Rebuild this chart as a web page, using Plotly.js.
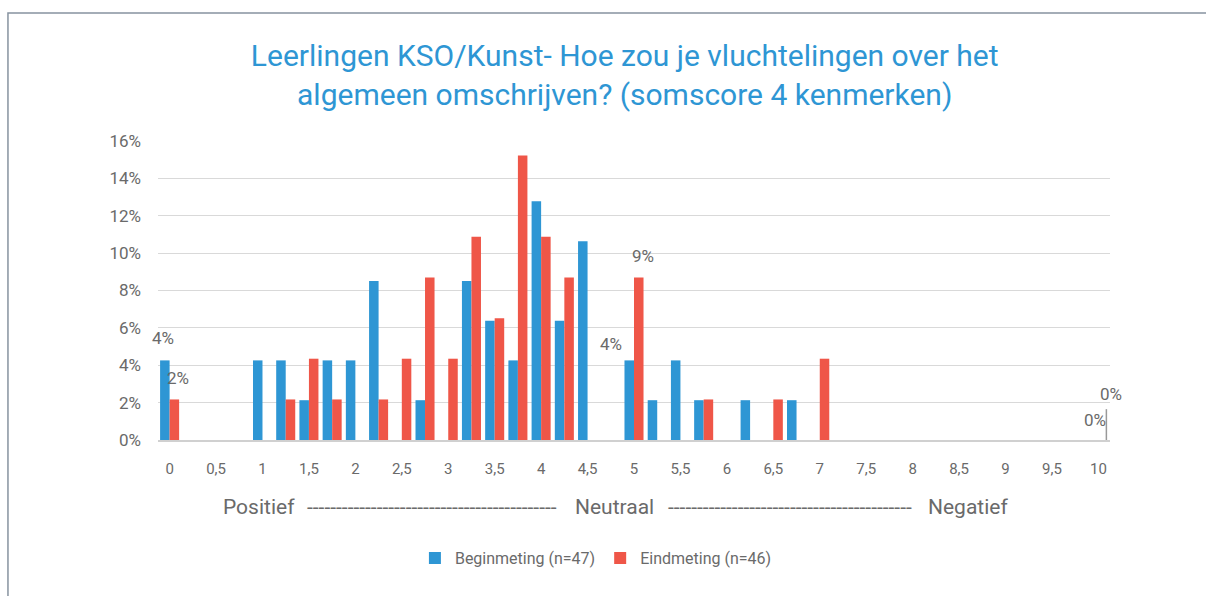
<!DOCTYPE html>
<html>
<head>
<meta charset="utf-8">
<script src="https://cdn.plot.ly/plotly-3.0.1.min.js"></script>
<style>html,body{margin:0;padding:0;background:#fff;}#chart{width:1206px;height:596px;}</style>
</head>
<body>
<div id="chart"></div>
<script>
// Score categories (0 to 10 in steps of 0.25)
const scores = [0,0.25,0.5,0.75,1,1.25,1.5,1.75,2,2.25,2.5,2.75,3,3.25,3.5,3.75,4,4.25,4.5,4.75,5,5.25,5.5,5.75,6,6.25,6.5,6.75,7,7.25,7.5,7.75,8,8.25,8.5,8.75,9,9.25,9.5,9.75,10];
// Share of pupils per score
const beginmeting = [0.0426,0,0,0,0.0426,0.0426,0.0213,0.0426,0.0426,0.0851,0,0.0213,0,0.0851,0.0638,0.0426,0.1277,0.0638,0.1064,0,0.0426,0.0213,0.0426,0.0213,0,0.0213,0,0.0213,0,0,0,0,0,0,0,0,0,0,0,0,0];
const eindmeting  = [0.0217,0,0,0,0,0.0217,0.0435,0.0217,0,0.0217,0.0435,0.0870,0.0435,0.1087,0.0652,0.1522,0.1087,0.0870,0,0,0.0870,0,0,0.0217,0,0,0.0217,0,0.0435,0,0,0,0,0,0,0,0,0,0,0,0];
const tickValues = [0,0.5,1,1.5,2,2.5,3,3.5,4,4.5,5,5.5,6,6.5,7,7.5,8,8.5,9,9.5,10];
const tickLabels = ['0','0,5','1','1,5','2','2,5','3','3,5','4','4,5','5','5,5','6','6,5','7','7,5','8','8,5','9','9,5','10'];
const seriesNames = ['Beginmeting (n=47)','Eindmeting (n=46)'];
const titleText = 'Leerlingen KSO/Kunst- Hoe zou je vluchtelingen over het<br>algemeen omschrijven? (somscore 4 kenmerken)';
// Data labels shown in the original (score, series index)
const labelled = [[0,0],[0,1],[5,0],[5,1],[10,0],[10,1]];

const blue = '#2E96D4', red = '#EF5648', gray = '#6a6a6a';
const font = 'Roboto, "Open Sans", sans-serif';

const traces = [
  {type:'bar', x:scores, y:beginmeting, name:seriesNames[0], marker:{color:blue, line:{width:0}}, hoverinfo:'x+y'},
  {type:'bar', x:scores, y:eindmeting, name:seriesNames[1], marker:{color:red, line:{width:0}}, hoverinfo:'x+y'}
];

// label offsets (style only)
const offs = {'0_0':[-2,-22],'0_1':[3,-21],'5_0':[-18,-16],'5_1':[4,-21],'10_0':[2,-20],'10_1':[8,-46]};
const annotations = labelled.map(([s,k])=>{
  const i = scores.indexOf(s);
  const v = (k===0?beginmeting:eindmeting)[i];
  const o = offs[s+'_'+k];
  return {x:s, y:v, xref:'x', yref:'y', text:Math.round(v*100)+'%', showarrow:false,
    xshift:(k===0?-5:5)+o[0], yshift:-o[1], font:{family:font, size:17, color:gray}};
});
const bottomTxt = [['Positief',0.106],['-------------------------------------------',0.288],['Neutraal',0.480],['------------------------------------------',0.664],['Negatief',0.851]];
bottomTxt.forEach(([t,x])=>annotations.push({xref:'paper', yref:'paper', x:x, y:-0.224, text:t, showarrow:false,
  xanchor:'center', yanchor:'middle', font:{family:font, size:21, color:gray}}));

const layout = {
  width:1206, height:596,
  margin:{l:158, r:96, t:141, b:156},
  paper_bgcolor:'#fff', plot_bgcolor:'#fff',
  title:{text:titleText, x:0.518, xanchor:'center', xref:'container', y:0.889, yref:'container', yanchor:'middle',
    font:{family:font, size:30, color:blue}},
  barmode:'group', bargap:0.18, bargroupgap:0,
  xaxis:{range:[-0.125,10.125], tickmode:'array', tickvals:tickValues, ticktext:tickLabels, showgrid:false,
    zeroline:false, showline:true, linecolor:'#d0d0d0', linewidth:1.5, ticks:'', ticklabelstandoff:14,
    tickfont:{family:font, size:15, color:gray}, fixedrange:true},
  yaxis:{range:[0,0.16], dtick:0.02, tickformat:'.0%', showgrid:true, gridcolor:'#d9d9d9', gridwidth:1,
    zeroline:false, showline:false, ticks:'', ticklabelstandoff:16, tickfont:{family:font, size:17, color:gray}},
  showlegend:true,
  legend:{orientation:'h', x:0.46, xanchor:'center', y:-0.395, yanchor:'middle', font:{family:font, size:16, color:gray},
    itemwidth:30, traceorder:'normal'},
  annotations:annotations,
  shapes:[
    {type:'rect', xref:'paper', yref:'paper', x0:-0.1576, x1:1.2, y0:-0.6, y1:1.428, line:{color:'#8793a0', width:1.5}, fillcolor:'rgba(0,0,0,0)', layer:'below'},
    {type:'line', xref:'x', yref:'y', x0:10.086, x1:10.086, y0:0, y1:0.0165, line:{color:'#999', width:1.5}}
  ]
};
Plotly.newPlot('chart', traces, layout, {displayModeBar:false, staticPlot:true});
</script>
</body>
</html>
